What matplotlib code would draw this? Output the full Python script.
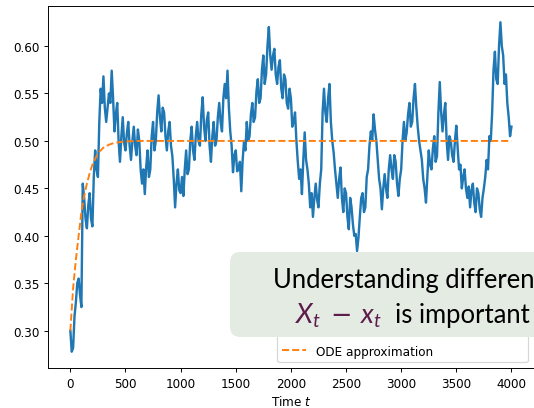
import matplotlib
matplotlib.use("Agg")
import matplotlib.pyplot as plt
from matplotlib.patches import FancyBboxPatch

plt.rcParams["mathtext.it"] = "Lato:italic"
plt.rcParams["mathtext.rm"] = "Lato"
plt.rcParams["mathtext.sf"] = "Lato"

# ---- data, one value every 12.5 time units ----
sim_x = [
    0.300, 0.278, 0.282, 0.315, 0.330, 0.350, 0.355, 0.338, 0.325, 0.455,
    0.440, 0.418, 0.408, 0.432, 0.445, 0.418, 0.410, 0.462, 0.490, 0.470,
    0.462, 0.520, 0.555, 0.540, 0.568, 0.535, 0.520, 0.535, 0.550, 0.540,
    0.574, 0.545, 0.510, 0.528, 0.540, 0.500, 0.478, 0.505, 0.525, 0.498,
    0.490, 0.508, 0.520, 0.495, 0.480, 0.500, 0.515, 0.495, 0.485, 0.512,
    0.500, 0.470, 0.455, 0.470, 0.444, 0.472, 0.490, 0.462, 0.470, 0.505,
    0.520, 0.490, 0.500, 0.530, 0.548, 0.525, 0.510, 0.535, 0.530, 0.505,
    0.490, 0.510, 0.520, 0.495, 0.484, 0.460, 0.430, 0.455, 0.470, 0.448,
    0.445, 0.462, 0.442, 0.470, 0.490, 0.465, 0.470, 0.500, 0.515, 0.490,
    0.480, 0.505, 0.520, 0.500, 0.495, 0.528, 0.546, 0.515, 0.500, 0.522,
    0.530, 0.495, 0.478, 0.505, 0.520, 0.495, 0.500, 0.525, 0.540, 0.520,
    0.510, 0.545, 0.560, 0.545, 0.574, 0.535, 0.510, 0.495, 0.467, 0.485,
    0.490, 0.468, 0.470, 0.478, 0.447, 0.480, 0.500, 0.490, 0.520, 0.500,
    0.505, 0.528, 0.540, 0.520, 0.525, 0.552, 0.565, 0.540, 0.545, 0.575,
    0.590, 0.560, 0.570, 0.600, 0.620, 0.590, 0.575, 0.590, 0.597, 0.570,
    0.560, 0.578, 0.585, 0.555, 0.545, 0.570, 0.565, 0.540, 0.534, 0.555,
    0.545, 0.515, 0.520, 0.530, 0.500, 0.478, 0.460, 0.470, 0.444, 0.480,
    0.509, 0.480, 0.470, 0.455, 0.430, 0.445, 0.420, 0.440, 0.455, 0.438,
    0.430, 0.455, 0.470, 0.530, 0.555, 0.530, 0.520, 0.545, 0.560, 0.520,
    0.500, 0.488, 0.470, 0.455, 0.440, 0.460, 0.472, 0.440, 0.425, 0.450,
    0.445, 0.420, 0.407, 0.440, 0.430, 0.412, 0.400, 0.402, 0.384, 0.398,
    0.420, 0.440, 0.445, 0.425, 0.430, 0.462, 0.470, 0.495, 0.510, 0.500,
    0.528, 0.512, 0.500, 0.480, 0.460, 0.450, 0.428, 0.450, 0.465, 0.450,
    0.440, 0.470, 0.485, 0.470, 0.460, 0.485, 0.478, 0.455, 0.442, 0.460,
    0.470, 0.500, 0.520, 0.500, 0.509, 0.528, 0.540, 0.515, 0.520, 0.545,
    0.560, 0.535, 0.515, 0.500, 0.490, 0.480, 0.460, 0.450, 0.435, 0.462,
    0.490, 0.475, 0.470, 0.492, 0.505, 0.478, 0.484, 0.530, 0.562, 0.530,
    0.510, 0.528, 0.540, 0.500, 0.480, 0.505, 0.500, 0.485, 0.478, 0.500,
    0.516, 0.492, 0.470, 0.475, 0.450, 0.462, 0.470, 0.450, 0.440, 0.452,
    0.430, 0.448, 0.455, 0.435, 0.425, 0.450, 0.445, 0.428, 0.420, 0.440,
    0.450, 0.462, 0.480, 0.470, 0.505, 0.500, 0.530, 0.575, 0.594, 0.565,
    0.560, 0.600, 0.625, 0.600, 0.590, 0.560, 0.570, 0.540, 0.525, 0.505,
    0.515]
sim_t = [12.5 * i for i in range(len(sim_x))]

ode_t = [0, 25, 50, 75, 100, 125, 150, 175, 200, 250, 300, 350, 400, 500, 600, 800, 4000]
ode_x = [0.300, 0.345, 0.375, 0.400, 0.425, 0.442, 0.455, 0.466, 0.475, 0.487,
         0.493, 0.496, 0.498, 0.4995, 0.5, 0.5, 0.5]

sim_label = "Stochastic simulation $X_t$, $N=1000$"
ode_label = "ODE approximation"
xlabel = "Time $t$"
yticks = [0.30, 0.35, 0.40, 0.45, 0.50, 0.55, 0.60]
xticks = [0, 500, 1000, 1500, 2000, 2500, 3000, 3500, 4000]

W, H, DPI = 534, 409, 86
fig = plt.figure(figsize=(W / DPI, H / DPI), dpi=DPI)
ax = fig.add_axes([48.3 / W, (H - 369.3) / H, (533.5 - 48.3) / W, (369.3 - 7.3) / H])

ax.plot(sim_t, sim_x, color="#1f77b4", lw=2.0, label=sim_label)
ax.plot(ode_t, ode_x, color="#ff7f0e", lw=1.6, ls="--", label=ode_label)

ax.set_xlim(-200, 4200)
ax.set_ylim(0.2605, 0.6418)
ax.set_xticks(xticks)
ax.set_yticks(yticks)
ax.set_yticklabels([f"{v:.2f}" for v in yticks])
ax.set_xlabel(xlabel)
ax.legend(loc="lower right")

# overlay box (in pixels -> inches)
def px(x, y):
    return x / DPI, (H - y) / DPI

x0, y1 = px(230, 253)
x1, y0 = px(640, 338)
box = FancyBboxPatch((x0, y0), x1 - x0, y1 - y0,
                     boxstyle="round,pad=0,rounding_size=0.12",
                     transform=fig.dpi_scale_trans, facecolor="#e4ebe3",
                     edgecolor="none", zorder=10)
fig.add_artist(box)

fs = 21.5
purple = "#5c1c4c"
tx, ty = px(273, 288)
fig.text(tx, ty, "Understanding difference", transform=fig.dpi_scale_trans,
         fontsize=fs, family="Lato", ha="left", va="baseline", zorder=11)
ax_, ay_ = px(295, 323.5)
fig.text(ax_, ay_, r"$X_t$", transform=fig.dpi_scale_trans,
         fontsize=fs + 1.5, math_fontfamily="custom", color=purple,
         ha="left", va="baseline", zorder=11)
mx, my = px(341, 323.5)
fig.text(mx, my, "\u2212", transform=fig.dpi_scale_trans,
         fontsize=fs, family="DejaVu Sans", color=purple,
         ha="center", va="baseline", zorder=11)
bx, by = px(360, 323.5)
fig.text(bx, by, r"$x_t$", transform=fig.dpi_scale_trans,
         fontsize=fs + 1.5, math_fontfamily="custom", color=purple,
         ha="left", va="baseline", zorder=11)
ix, iy = px(395, 323.5)
fig.text(ix, iy, "is important", transform=fig.dpi_scale_trans,
         fontsize=fs, family="Lato", ha="left", va="baseline", zorder=11)

fig.savefig("out.png", dpi=DPI)
